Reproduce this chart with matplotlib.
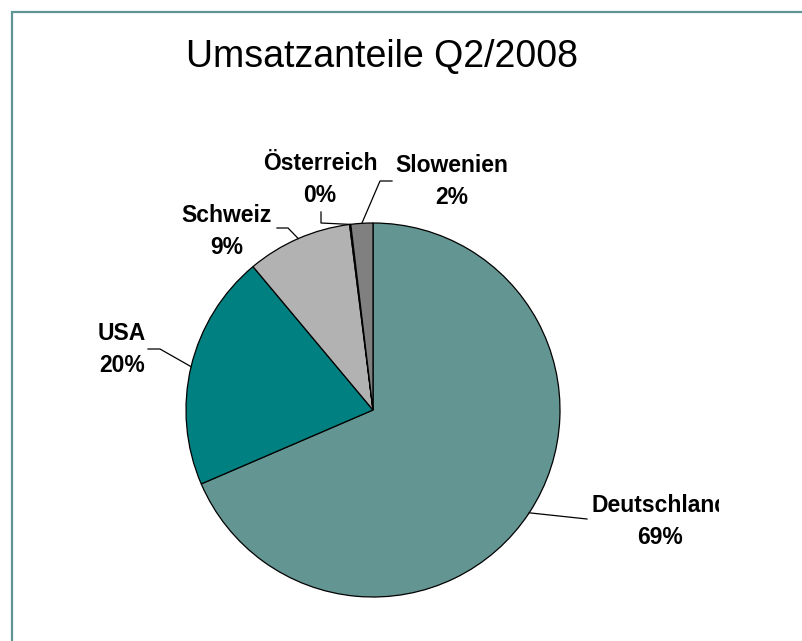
import matplotlib.pyplot as plt
from matplotlib.patches import Rectangle
import numpy as np

plt.rcParams['font.family'] = ['Liberation Sans', 'DejaVu Sans']

# Daten
laender = ['Deutschland', 'USA', 'Schweiz', 'Österreich', 'Slowenien']
anteile = [68.6, 20.4, 9.1, 0.1, 1.9]
farben = ['#639593', '#008080', '#b2b2b2', '#ffffff', '#808080']

# Layout in Pixeln (y von oben)
W, H = 802, 641
text_pos = {'Deutschland': (660, 521), 'USA': (122, 350), 'Schweiz': (227, 231),
            'Österreich': (320, 179), 'Slowenien': (452, 182)}
leader_pts = {'Deutschland': [(587, 519)],
              'USA': [(160, 349), (148, 349)],
              'Schweiz': [(288, 228), (277, 228)],
              'Österreich': [(321, 223), (321, 212)],
              'Slowenien': [(380, 181), (392, 181)]}

fig = plt.figure(figsize=(W / 100, H / 100), dpi=100)
ax = fig.add_axes([0, 0, 1, 1])

cx, cy, r = 373, H - 410, 187
wedges, _ = ax.pie(anteile, colors=farben, startangle=90, counterclock=False,
                   center=(cx, cy), radius=r,
                   wedgeprops=dict(edgecolor='black', linewidth=0.9))
ax.set_xlim(0, W)
ax.set_ylim(0, H)
ax.set_aspect('equal')
ax.axis('off')

# Rahmen (nur links und oben sichtbar)
ax.add_patch(Rectangle((12, -20), W + 40, H - 12 + 20, fill=False,
                       edgecolor='#5f9595', linewidth=1.6))

ax.text(382, H - 57, 'Umsatzanteile Q2/2008', ha='center', va='center', fontsize=27)

gesamt = sum(anteile)
for w, name, val in zip(wedges, laender, anteile):
    theta = np.deg2rad((w.theta1 + w.theta2) / 2)
    ax0, ay0 = cx + r * np.cos(theta), cy + r * np.sin(theta)
    xs = [ax0] + [p[0] for p in leader_pts[name]]
    ys = [ay0] + [H - p[1] for p in leader_pts[name]]
    ax.plot(xs, ys, color='black', linewidth=0.9)
    tx, ty = text_pos[name]
    t = ax.text(tx, H - ty, f'{name}\n{val / gesamt * 100:.0f}%', ha='center', va='center',
                fontsize=16.5, fontweight='bold', linespacing=1.5)
    # Beschriftung wird rechts vom Diagrammbereich abgeschnitten
    t.set_clip_on(True)
    t.set_clip_path(Rectangle((0, 0), 719, H, transform=ax.transData))

fig.savefig('out.png', dpi=100)
